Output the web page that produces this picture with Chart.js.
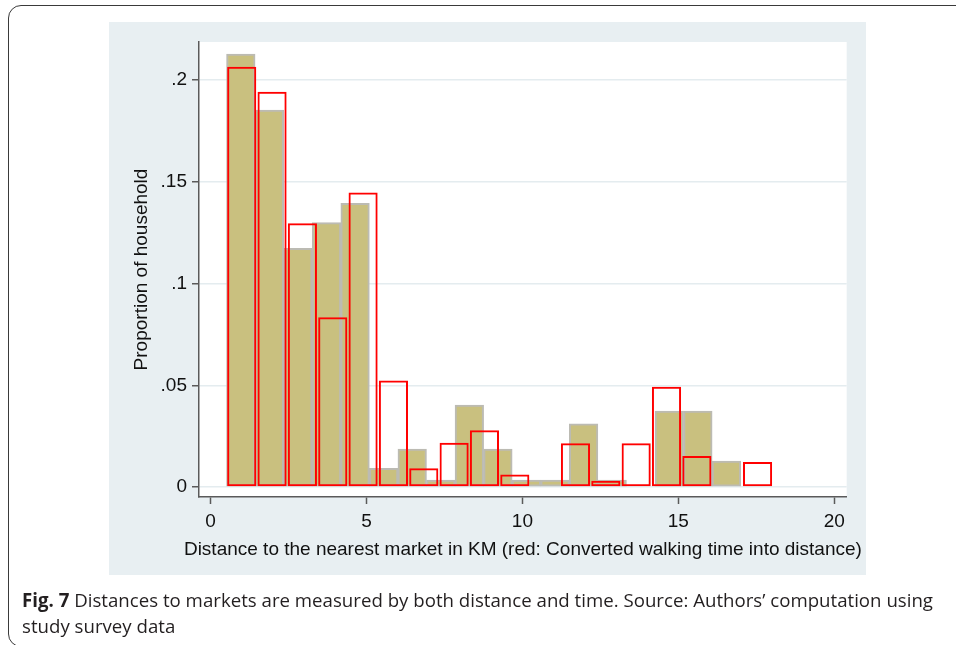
<!DOCTYPE html>
<html><head><meta charset="utf-8">
<script src="https://cdn.jsdelivr.net/npm/chart.js@4"></script>
<style>
html,body{margin:0;padding:0;background:#fff;width:956px;height:645px;overflow:hidden;position:relative}
#frame{position:absolute;left:8px;top:5px;width:1000px;height:642px;border:1.5px solid #3a3a3a;border-radius:13px;box-sizing:border-box}
#panel{position:absolute;left:109px;top:22px;width:757px;height:553px;background:#e8eff2}
#wrap{position:absolute;left:0;top:0;width:956px;height:645px}
#xtitle{position:absolute;left:222.9px;width:600px;top:537px;height:23px;line-height:23px;text-align:center;white-space:nowrap;
  font-family:"Liberation Sans",Arial,sans-serif;font-size:19px;color:#111;display:flex;justify-content:center}
.cap{position:absolute;left:22px;font-family:"Open Sans",sans-serif;font-size:19px;color:#231f20;white-space:nowrap;transform-origin:0 50%}
#cap1{top:587px}
#cap2{top:613px}
</style></head>
<body>
<div id="frame"></div>
<div id="panel"></div>
<div id="wrap"><canvas id="c" width="956" height="645"></canvas></div>
<div id="xtitle"><span>Distance to the nearest market in KM (red: Converted walking time into distance)</span></div>
<div class="cap" id="cap1"><b>Fig. 7</b> Distances to markets are measured by both distance and time. Source: Authors’ computation using</div>
<div class="cap" id="cap2">study survey data</div>
<script>
// Distance bins (km, bin centres) and proportion of households
const distanceBinCenters = [0.971,1.887,2.803,3.719,4.635,5.551,6.467,7.383,8.299,9.215,10.131,11.047,11.963,12.879,13.795,14.711,15.627,16.543];
const distanceShares     = [0.2128,0.1853,0.1173,0.1299,0.1394,0.0092,0.0187,0.0034,0.0403,0.0187,0.0034,0.0034,0.0310,0.0034,0,0.0373,0.0373,0.0128];
// Walking time converted into distance (red outline bars)
const walkingBinCenters  = [1.000,1.973,2.946,3.919,4.892,5.865,6.838,7.811,8.784,9.757,10.730,11.703,12.676,13.649,14.622,15.595,16.568,17.541];
const walkingShares      = [0.2065,0.1943,0.1296,0.0834,0.1448,0.0524,0.0092,0.0218,0.0279,0.0062,0,0.0215,0.0031,0.0215,0.0493,0.0152,0,0.0123];
// Axis ticks
const xTickValues = [0,5,10,15,20];
const xTickLabels = ['0','5','10','15','20'];
const yTickValues = [0,0.05,0.1,0.15,0.2];
const yTickLabels = ['0','.05','.1','.15','.2'];

const toPoints = (xs, ys) => xs.map((x,i)=>({x:x, y:ys[i]}));
const FONT = {family:'"Liberation Sans", Arial, sans-serif', size:19};
const AXIS_DARK = '#5a5a5a';

const plotBg = {
  id:'plotBg',
  beforeDraw(chart){
    const a = chart.chartArea, ctx = chart.ctx;
    ctx.save(); ctx.fillStyle = '#ffffff';
    ctx.fillRect(a.left, a.top, a.right-a.left, a.bottom-a.top);
    ctx.restore();
  }
};

new Chart(document.getElementById('c'), {
  type:'bar',
  data:{
    datasets:[
      {
        label:'Converted walking time into distance',
        data: toPoints(walkingBinCenters, walkingShares),
        xAxisID:'x2', order:1,
        backgroundColor:'rgba(0,0,0,0)', borderColor:'#ff0000', borderWidth:2,
        borderSkipped:false, barPercentage:0.96, categoryPercentage:1, grouped:false
      },
      {
        label:'Distance to the nearest market',
        data: toPoints(distanceBinCenters, distanceShares),
        xAxisID:'x', order:2,
        backgroundColor:'#c9c07f', borderColor:'#bcbbb3', borderWidth:2,
        borderSkipped:false, barPercentage:1, categoryPercentage:1, grouped:false
      }
    ]
  },
  options:{
    responsive:false, animation:false, devicePixelRatio:1,
    layout:{padding:{left:126.5, top:42, right:109.3, bottom:108}},
    plugins:{legend:{display:false}, tooltip:{enabled:false}},
    scales:{
      x:{
        type:'linear', position:'bottom', min:-0.37, max:20.4, offset:false,
        afterBuildTicks(s){ s.ticks = xTickValues.map(v=>({value:v})); },
        afterFit(s){ s.height = 40; },
        ticks:{font:FONT, color:'#111', padding:6.3, maxRotation:0,
          callback:(v)=> xTickLabels[xTickValues.indexOf(v)]},
        grid:{offset:false, drawOnChartArea:false, drawTicks:true, tickLength:7, tickColor:AXIS_DARK, tickWidth:1.5},
        border:{display:true, color:AXIS_DARK, width:1.5},
        title:{display:false}
      },
      x2:{
        type:'linear', display:false, min:-0.37, max:20.4, offset:false,
        grid:{offset:false},
        afterBuildTicks(s){ s.ticks = xTickValues.map(v=>({value:v})); }
      },
      y:{
        type:'linear', position:'left', min:-0.0049, max:0.2187,
        afterBuildTicks(s){ s.ticks = yTickValues.map(v=>({value:v})); },
        afterFit(s){ s.width = 72.5; },
        ticks:{font:FONT, color:'#111', padding:5,
          callback:(v)=> yTickLabels[yTickValues.indexOf(v)]},
        grid:{color:'#e4ecef', lineWidth:1.5, drawTicks:true, tickLength:7, tickColor:AXIS_DARK, tickWidth:1.5},
        border:{display:true, color:AXIS_DARK, width:1.5},
        title:{display:true, text:'Proportion of household', font:FONT, color:'#111', padding:{top:4, bottom:4}}
      }
    }
  },
  plugins:[plotBg]
});

// fit caption line width to the reference layout
(function(){
  const c1 = document.getElementById('cap1'), c2 = document.getElementById('cap2');
  const w = c1.getBoundingClientRect().width;
  const k = 911 / w;
  c1.style.transform = 'scaleX(' + k + ')';
  c2.style.transform = 'scaleX(' + k + ')';
})();
</script>
</body></html>
